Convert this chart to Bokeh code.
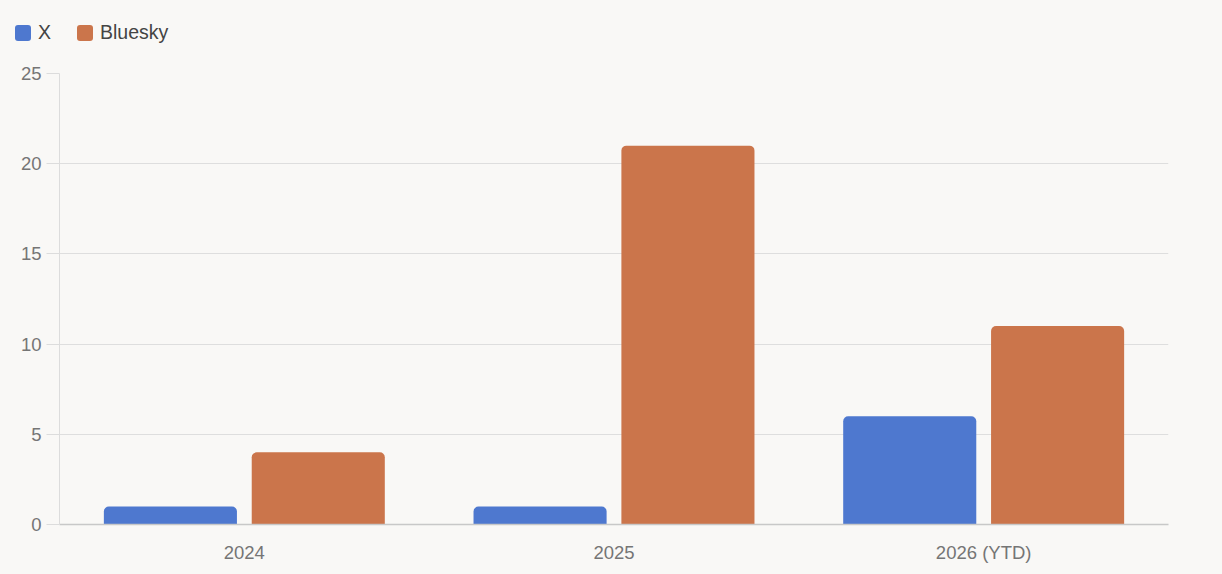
from bokeh.plotting import figure, ColumnDataSource
from bokeh.models import FactorRange, Range1d, FixedTicker, Div
from bokeh.layouts import column
from bokeh.transform import dodge
from bokeh.embed import file_html
from bokeh.resources import INLINE

years = ["2024", "2025", "2026 (YTD)"]
x_posts = [1, 1, 6]
bluesky_posts = [4, 21, 11]
y_ticks = [0, 5, 10, 15, 20, 25]
series_names = ["X", "Bluesky"]

BG = "#f9f8f6"
BLUE = "#4e78cf"
ORANGE = "#cb754b"
FONT = "Liberation Sans"
TICK_COLOR = "#757575"

source = ColumnDataSource(dict(year=years, x=x_posts, bluesky=bluesky_posts))

p = figure(
    width=1222, height=511,
    x_range=FactorRange(factors=years, range_padding=0),
    y_range=Range1d(0, 25),
    output_backend="svg", toolbar_location=None,
    min_border_left=59, min_border_right=54,
    min_border_top=10, min_border_bottom=50,
)
p.background_fill_color = BG
p.border_fill_color = BG
p.outline_line_color = None

p.vbar(x=dodge("year", -0.2, range=p.x_range), top="x", width=0.36,
       source=source, fill_color=BLUE, line_color=None,
       border_radius=(5, 5, 0, 0))
p.vbar(x=dodge("year", 0.2, range=p.x_range), top="bluesky", width=0.36,
       source=source, fill_color=ORANGE, line_color=None,
       border_radius=(5, 5, 0, 0))

# grid
p.xgrid.grid_line_color = None
p.ygrid.grid_line_color = "#dedede"
p.ygrid.grid_line_width = 1
p.ygrid.ticker = FixedTicker(ticks=y_ticks)

# y axis
p.yaxis.ticker = FixedTicker(ticks=y_ticks)
p.yaxis.axis_line_color = "#dcdcdc"
p.yaxis.major_tick_line_color = "#dcdcdc"
p.yaxis.major_tick_out = 13
p.yaxis.major_tick_in = 0
p.yaxis.minor_tick_line_color = None
p.yaxis.major_label_standoff = 5
p.yaxis.major_label_text_font = FONT
p.yaxis.major_label_text_font_size = "18.5px"
p.yaxis.major_label_text_color = TICK_COLOR

# x axis
p.xaxis.axis_line_color = "#c8c8c8"
p.xaxis.axis_line_width = 1.5
p.xaxis.major_tick_line_color = None
p.xaxis.minor_tick_line_color = None
p.xaxis.major_label_standoff = 11
p.xaxis.major_label_text_font = FONT
p.xaxis.major_label_text_font_size = "18.5px"
p.xaxis.major_label_text_color = TICK_COLOR

# legend as html row above the plot
def swatch(color, name, first):
    ml = "0" if first else "26px"
    return (f'<span style="display:inline-flex;align-items:center;margin-left:{ml}">'
            f'<span style="display:inline-block;width:16px;height:16px;background:{color};'
            f'border-radius:3px;margin-right:7px"></span>{name}</span>')

legend_html = (
    f'<div style="font-family:\'{FONT}\';font-size:19.5px;color:#444444;'
    f'padding:19px 0 0 15px;display:flex;align-items:center">'
    + swatch(BLUE, series_names[0], True)
    + swatch(ORANGE, series_names[1], False)
    + '</div>'
)
legend = Div(text=legend_html, width=1222, height=63,
             styles={"background-color": BG, "margin": "0"})

layout = column(legend, p, spacing=0, styles={"background-color": BG})

open("out.html", "w").write(file_html(layout, INLINE))
